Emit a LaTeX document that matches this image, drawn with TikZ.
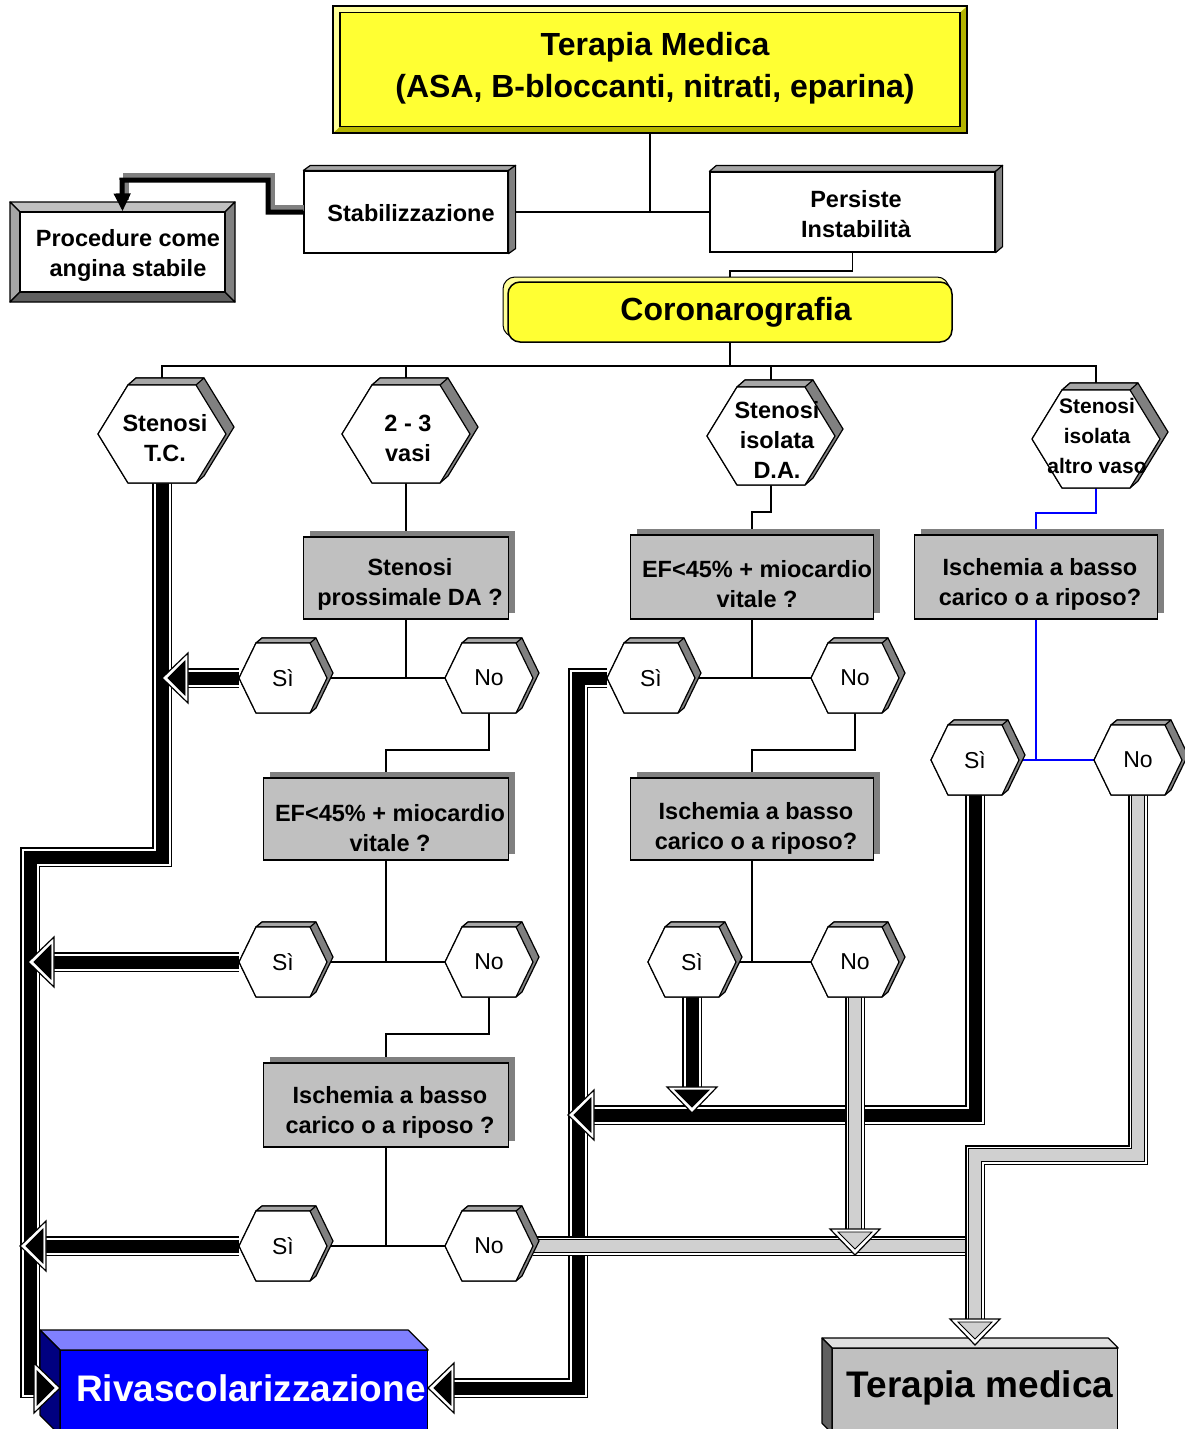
\documentclass[tikz,border=0pt]{standalone}
\usepackage{fontspec}
\setmainfont{Liberation Sans}
\usetikzlibrary{arrows.meta}
\definecolor{ymain}{HTML}{FFFF33}
\definecolor{ylight}{HTML}{FFFF99}
\definecolor{ydark}{HTML}{B3B300}
\definecolor{boxgray}{HTML}{C0C0C0}
\definecolor{shadowgray}{HTML}{808080}
\definecolor{hexdark}{HTML}{808080}
\definecolor{hexlight}{HTML}{A6A6A6}
\definecolor{rfront}{HTML}{0000FF}
\definecolor{rtop}{HTML}{8080FF}
\definecolor{rside}{HTML}{000080}
\definecolor{tfront}{HTML}{C0C0C0}
\definecolor{ttop}{HTML}{E0E0E0}
\definecolor{tside}{HTML}{606060}
\definecolor{gcore}{HTML}{D0D0D0}
\pgfdeclarelayer{back}
\pgfdeclarelayer{mid}
\pgfdeclarelayer{front}
\pgfsetlayers{back,mid,main,front}
\newcommand\fTop{\fontsize{32}{42}\selectfont\bfseries}
\newcommand\fBig{\fontsize{37}{44}\selectfont\bfseries}
\newcommand\fCoro{\fontsize{32}{38}\selectfont\bfseries}
\newcommand\fBox{\fontsize{23.5}{30}\selectfont\bfseries}
\newcommand\fHexS{\fontsize{21}{30}\selectfont\bfseries}
\newcommand\fSN{\fontsize{23}{28}\selectfont}
\tikzset{
  conn/.style={line width=1.8pt, black},
  bconn/.style={line width=1.8pt, blue},
  txt/.style={align=center, inner sep=0pt},
  edge3d/.style={line width=1.2pt, draw=black, line join=round},
  gboxs/.style={draw=black, line width=1.2pt, fill=boxgray, inner sep=0pt},
  hexn/.style={inner sep=0pt, outer sep=0pt},
}
% grey box with shadow: name, cx, cy, w, h
\newcommand\gbox[5]{%
  \fill[shadowgray] (#2-#4/2+6, #3-#5/2-6) rectangle (#2+#4/2+6, #3+#5/2-6);
  \node[gboxs, minimum width=#4pt, minimum height=#5pt] (#1) at (#2,#3) {};
}
% big hexagon: name, cx, cy
\newcommand\hexB[3]{%
  \begin{scope}[shift={(#2,#3)}]
    \filldraw[fill=hexdark, edge3d] (-64,0)--(-34,-49)--(-26,-56)--(42,-56)--(72,-7)--(42,42)--(34,49)--(-34,49)--cycle;
    \filldraw[fill=hexlight, edge3d] (-34,-49)--(-26,-56)--(42,-56)--(34,-49)--cycle;
    \filldraw[fill=white, edge3d] (-64,0)--(-34,-49)--(34,-49)--(64,0)--(34,49)--(-34,49)--cycle;
  \end{scope}
  \node[hexn, minimum width=128pt, minimum height=98pt] (#1) at (#2,#3) {};
}
% small hexagon: name, cx, cy, text
\newcommand\hexS[4]{%
  \begin{scope}[shift={(#2,#3)}]
    \filldraw[fill=hexdark, edge3d] (-44,0)--(-27,-35)--(-21,-40)--(33,-40)--(50,-5)--(33,30)--(27,35)--(-27,35)--cycle;
    \filldraw[fill=hexlight, edge3d] (-27,-35)--(-21,-40)--(33,-40)--(27,-35)--cycle;
    \filldraw[fill=white, edge3d] (-44,0)--(-27,-35)--(27,-35)--(44,0)--(27,35)--(-27,35)--cycle;
  \end{scope}
  \node[hexn, minimum width=88pt, minimum height=70pt, font=\fSN] (#1) at (#2,#3) {#4};
}
% fat arrow shaft: core colour, path
\newcommand\fatarrow[2]{%
  \draw[line width=20pt, black, line join=miter] #2;
  \draw[line width=17pt, white, line join=miter] #2;
  \draw[line width=13pt, #1, line join=miter] #2;
}
\newcommand\fatgrey[1]{%
  \draw[line width=20pt, black, line join=miter] #1;
  \draw[line width=17pt, white, line join=miter] #1;
  \draw[line width=14pt, black, line join=miter] #1;
  \draw[line width=12pt, gcore, line join=miter] #1;
}
% arrow head: colour, tip x, tip y, rotation (0 = pointing left)
\newcommand\myhead[4]{%
  \begin{scope}[shift={(#2,#3)}, rotate=#4]
    \filldraw[fill=white, draw=black, line width=1.2pt, line join=miter] (0pt,0pt) -- (26pt,25pt) -- (26pt,-25pt) -- cycle;
    \filldraw[fill=#1, draw=black, line width=0.8pt, line join=miter] (6pt,0pt) -- (23pt,17pt) -- (23pt,-17pt) -- cycle;
  \end{scope}
}
\begin{document}
\begin{tikzpicture}[x=1pt, y=-1pt]
\useasboundingbox (0,0) rectangle (1184,1429);

% ---------- top box ----------
\fill[ydark] (333,6) rectangle (967,133);
\fill[ylight] (333,6) -- (967,6) -- (960,12.5) -- (340,12.5) -- (340,126.5) -- (333,133) -- cycle;
\draw[line width=1.2pt] (333,6) rectangle (967,133);
\node[draw, line width=1.2pt, fill=ymain, minimum width=620pt, minimum height=114pt, inner sep=0pt] (tm) at (650,69.5) {};
\node[txt, font=\fTop] (tmT) at (655,68) {Terapia Medica\\(ASA, B-bloccanti, nitrati, eparina)};

% ---------- Stabilizzazione ----------
\node[draw, line width=1.2pt, fill=white, minimum width=204pt, minimum height=82pt, inner sep=0pt] (stab) at (406,212) {};
\filldraw[fill=hexlight, edge3d] (stab.north west) -- ++(7pt,5pt) -- ([shift={(7pt,5pt)}]stab.north east) -- (stab.north east) -- cycle;
\filldraw[fill=hexdark, edge3d] (stab.north east) -- ++(7pt,5pt) -- ([shift={(7pt,5pt)}]stab.south east) -- (stab.south east) -- cycle;
\node[txt, font=\fBox] (stabT) at (411,213) {Stabilizzazione};

% ---------- Persiste ----------
\node[draw, line width=1.2pt, fill=white, minimum width=285pt, minimum height=80pt, inner sep=0pt] (pers) at (852.5,212) {};
\filldraw[fill=hexlight, edge3d] (pers.north west) -- ++(7pt,6pt) -- ([shift={(7pt,6pt)}]pers.north east) -- (pers.north east) -- cycle;
\filldraw[fill=hexdark, edge3d] (pers.north east) -- ++(7pt,6pt) -- ([shift={(7pt,6pt)}]pers.south east) -- (pers.south east) -- cycle;
\node[txt, font=\fBox, align=center] (persT) at (856,214) {\fontsize{23.5}{31}\selectfont Persiste\\Instabilità};

% ---------- Procedure ----------
\filldraw[fill=boxgray, edge3d] (10,202) -- (235,202) -- (225,212) -- (20,212) -- cycle;
\filldraw[fill=hexlight, edge3d] (10,202) -- (20,212) -- (20,292) -- (10,302) -- cycle;
\filldraw[fill=tside, edge3d] (10,302) -- (20,292) -- (225,292) -- (235,302) -- cycle;
\filldraw[fill=hexdark, edge3d] (235,202) -- (235,302) -- (225,292) -- (225,212) -- cycle;
\node[draw, line width=1.2pt, fill=white, minimum width=205pt, minimum height=80pt, inner sep=0pt] (proc) at (122.5,252) {};
\node[txt, font=\fBox] (procT) at (128,255) {\fontsize{23.5}{32}\selectfont Procedure come\\angina stabile};

% ---------- Coronarografia ----------
\draw[fill=ylight, line width=1pt, rounded corners=12pt] (503,277) rectangle (949,337);
\node[draw, line width=1.5pt, fill=ymain, rounded corners=12pt, minimum width=444pt, minimum height=60pt, inner sep=0pt] (coro) at (730,312) {};
\node[txt, font=\fCoro] (coroT) at (736,312) {Coronarografia};

% ---------- hexagons ----------
\hexB{h1}{162}{434}
\node[txt, font=\fBox] (h1T) at (165,438) {Stenosi\\T.C.};
\hexB{h2}{406}{434}
\node[txt, font=\fBox] (h2T) at (408,438) {2 - 3\\vasi};
\hexB{h3}{771}{436}
\node[txt, font=\fBox] (h3T) at (777,440) {\fontsize{23.5}{31}\selectfont Stenosi\\isolata\\D.A.};
\hexB{h4}{1096}{439}
\node[txt, font=\fHexS] (h4T) at (1097,436) {Stenosi\\isolata\\altro vaso};

% ---------- grey question boxes ----------
\gbox{b1}{406}{578}{205}{82}
\node[txt, font=\fBox] (b1T) at (410,584) {Stenosi\\prossimale DA ?};
\gbox{b2}{752}{577}{243}{84}
\node[txt, font=\fBox] (b2T) at (757,584) {EF<45\% + miocardio\\vitale ?};
\gbox{b3}{1036}{577}{243}{84}
\node[txt, font=\fBox] (b3T) at (1040,584) {Ischemia a basso\\carico o a riposo?};
\gbox{b4}{386}{819}{245}{82}
\node[txt, font=\fBox] (b4T) at (390,828) {EF<45\% + miocardio\\vitale ?};
\gbox{b5}{752}{819}{243}{82}
\node[txt, font=\fBox] (b5T) at (756,828) {Ischemia a basso\\carico o a riposo?};
\gbox{b6}{386}{1105}{245}{84}
\node[txt, font=\fBox] (b6T) at (390,1112) {Ischemia a basso\\carico o a riposo ?};

% ---------- small hexagons ----------
\hexS{sA1}{283}{678}{Sì}
\hexS{nA1}{489}{678}{No}
\hexS{sA2}{283}{962}{Sì}
\hexS{nA2}{489}{962}{No}
\hexS{sA3}{283}{1246}{Sì}
\hexS{nA3}{489}{1246}{No}
\hexS{sB1}{651}{678}{Sì}
\hexS{nB1}{855}{678}{No}
\hexS{sB2}{692}{962}{Sì}
\hexS{nB2}{855}{962}{No}
\hexS{sC}{975}{760}{Sì}
\hexS{nC}{1138}{760}{No}

% ---------- bottom boxes ----------
\begin{pgfonlayer}{back}
\node[fill=rfront, draw=black, line width=1.2pt, minimum width=367pt, minimum height=84pt, anchor=north west, inner sep=0pt] (riva) at (60,1350) {};
\filldraw[fill=rtop, edge3d] (riva.north west) -- ++(-20pt,20pt) -- ([shift={(-20pt,20pt)}]riva.north east) -- (riva.north east) -- cycle;
\filldraw[fill=rside, edge3d] (riva.north west) -- ++(-20pt,20pt) -- ([shift={(-20pt,20pt)}]riva.south west) -- (riva.south west) -- cycle;
\node[txt, font=\fBig, text=white] (rivaT) at (251,1388) {Rivascolarizzazione};
\node[fill=tfront, draw=black, line width=1.2pt, minimum width=285pt, minimum height=84pt, anchor=north west, inner sep=0pt] (terap) at (832,1348) {};
\filldraw[fill=ttop, edge3d] (terap.north west) -- ++(-10pt,10pt) -- ([shift={(-10pt,10pt)}]terap.north east) -- (terap.north east) -- cycle;
\filldraw[fill=tside, edge3d] (terap.north west) -- ++(-10pt,10pt) -- ([shift={(-10pt,10pt)}]terap.south west) -- (terap.south west) -- cycle;
\node[txt, font=\fBig] (terapT) at (980,1388) {Terapia medica};
\end{pgfonlayer}

% ---------- thin connectors ----------
\begin{pgfonlayer}{back}
\coordinate (bus) at (730,366);
\draw[conn] (tm.south) -- (tm.south |- stab.east);
\draw[conn] (stab.east) -- (stab.east -| pers.west);
\draw[conn] (pers.south) -- ++(0,18) -| (coro.north);
\draw[conn] (coro.south) -- (bus);
\draw[conn] (h1.north) -- (h1.north |- bus) -- (h4.north |- bus) -- (h4.north);
\draw[conn] (h2.north) -- (h2.north |- bus);
\draw[conn] (h3.north) -- (h3.north |- bus);
\draw[conn] (h2.south) -- (b1.north);
\draw[conn] (b1.south) -- (b1.south |- sA1.east);
\draw[conn] (sA1.east) -- (nA1.west);
\draw[conn] (nA1.south) -- ++(0,37) -| (b4.north);
\draw[conn] (b4.south) -- (b4.south |- sA2.east);
\draw[conn] (sA2.east) -- (nA2.west);
\draw[conn] (nA2.south) -- ++(0,37) -| (b6.north);
\draw[conn] (b6.south) -- (b6.south |- sA3.east);
\draw[conn] (sA3.east) -- (nA3.west);
\draw[conn] (h3.south) -- ++(0,27) -| (b2.north);
\draw[conn] (b2.south) -- (b2.south |- sB1.east);
\draw[conn] (sB1.east) -- (nB1.west);
\draw[conn] (nB1.south) -- ++(0,37) -| (b5.north);
\draw[conn] (b5.south) -- (b5.south |- sB2.east);
\draw[conn] (sB2.east) -- (nB2.west);
\draw[bconn] (h4.south) -- ++(0,25) -| (b3.north);
\draw[bconn] (b3.south) -- (b3.south |- sC.east);
\draw[bconn] (sC.east) -- (nC.west);
\end{pgfonlayer}

% ---------- fat arrows ----------
\begin{pgfonlayer}{mid}
\coordinate (k1) at (162,857);
\coordinate (k2) at (30,857);
\coordinate (k3) at (30,1388);
\coordinate (k4) at (578,678);
\coordinate (k5) at (578,1388);
\coordinate (k6) at (975,1115);
\coordinate (k7) at (1138,1155);
\coordinate (k8) at (975,1155);
\fatarrow{black}{(h1.south) -- (k1) -- (k2) -- (k3) -- (38,1388)}
\fatarrow{black}{(sA1.west) -- (184,678)}
\fatarrow{black}{(sA2.west) -- (50,962)}
\fatarrow{black}{(sA3.west) -- (42,1246)}
\fatarrow{black}{(sB1.west) -- (k4) -- (k5) -- (450,1388)}
\fatarrow{black}{(sC.south) -- (k6) -- (590,1115)}
\fatarrow{black}{(sB2.south) -- (692,1091)}
\myhead{black}{60}{1388}{180}
\myhead{black}{162}{678}{0}
\myhead{black}{28}{962}{0}
\myhead{black}{20}{1246}{0}
\myhead{black}{428}{1388}{0}
\myhead{black}{568}{1115}{0}
\myhead{black}{692}{1113}{90}
\fatgrey{(nA3.east) -- (975,1246)}
\fatgrey{(nC.south) -- (k7) -- (k8) -- (975,1323)}
\fatgrey{(nB2.south) -- (855,1233)}
\myhead{gcore}{975}{1345}{90}
\myhead{gcore}{855}{1255}{90}
\end{pgfonlayer}

% ---------- Stabilizzazione -> Procedure ----------
\begin{pgfonlayer}{front}
\draw[line width=6pt, shadowgray, line join=miter] (304,208) -- (272,208) -- (272,176) -- (126,176) -- (126,200);
\draw[line width=5pt, black, line join=miter, -{Triangle[length=18pt,width=16pt]}] (stab.west) -- (268,212) -- (268,180) -- (122,180) -- (proc.north);
\end{pgfonlayer}
\end{tikzpicture}
\end{document}
